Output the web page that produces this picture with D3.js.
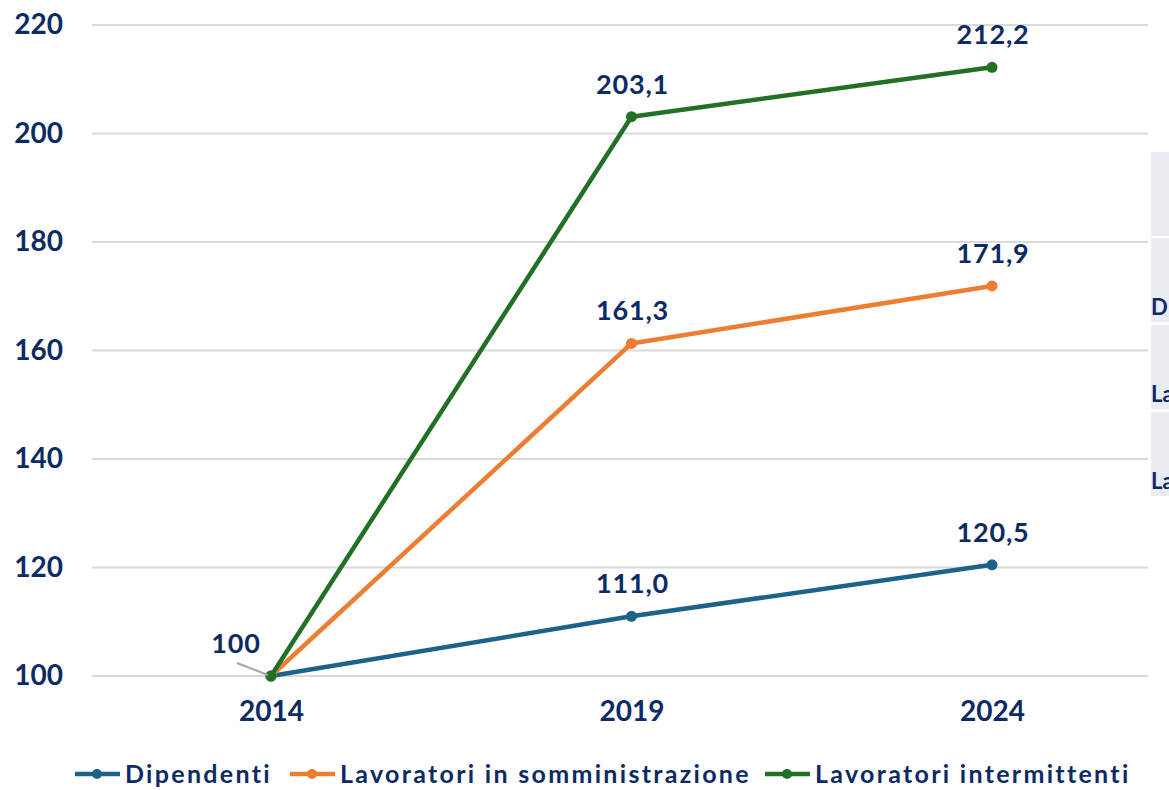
<!DOCTYPE html>
<html>
<head>
<meta charset="utf-8">
<script src="https://cdn.jsdelivr.net/npm/d3@7"></script>
<style>
  body { margin: 0; background: #fff; }
  svg { display: block; font-family: Lato, "Open Sans", sans-serif; font-weight: bold; }
</style>
</head>
<body>
<svg></svg>
<script>
let years = ['2014', '2019', '2024']
let seriesNames = ['Dipendenti', 'Lavoratori in somministrazione', 'Lavoratori intermittenti']
let dipendenti = [100, 111.0, 120.5]
let somministrazione = [100, 161.3, 171.9]
let intermittenti = [100, 203.1, 212.2]
let yTicks = [100, 120, 140, 160, 180, 200, 220]
// what shows of the table cut by the right edge
let tableRows = ['', 'D', 'La', 'La']
let colors = ['#1d6388', '#ed7d31', '#217024']

let width = 1169
let height = 790
let textColor = '#0c2a64'

let svg = d3.select('svg')
  .attr('width', width)
  .attr('height', height)

let xScale = d3.scalePoint()
  .domain(years)
  .range([271, 992])

let yScale = d3.scaleLinear()
  .domain([100, 220])
  .range([676, 25])

let rowTops = [152, 238, 325, 412]
tableRows.forEach((t, i) => {
  svg.append('rect')
     .attr('x', 1151).attr('y', rowTops[i])
     .attr('width', 40).attr('height', 84)
     .attr('fill', '#e9ecf0')
  svg.append('text')
     .attr('x', 1151).attr('y', rowTops[i] + 77)
     .attr('font-size', 22)
     .attr('fill', textColor)
     .text(t)
})

// gridlines
svg.append('g')
   .selectAll('line')
   .data(yTicks)
   .enter()
   .append('line')
   .attr('x1', 92)
   .attr('x2', 1148)
   .attr('y1', (d) => yScale(d))
   .attr('y2', (d) => yScale(d))
   .attr('stroke', '#d9d9d9')
   .attr('stroke-width', 2)

let yAxis = d3.axisLeft(yScale)
  .tickValues(yTicks)
  .tickSize(0)
  .tickPadding(0)

let yG = svg.append('g')
   .attr('transform', 'translate(63, 0)')
   .call(yAxis)
yG.select('.domain').remove()
yG.selectAll('text')
  .attr('font-size', 28)
  .attr('font-family', 'Lato, sans-serif')
  .attr('font-weight', 'bold')
  .attr('fill', textColor)

let xAxis = d3.axisBottom(xScale)
  .tickSize(0)
  .tickPadding(0)

let xG = svg.append('g')
   .attr('transform', 'translate(0, 701)')
   .call(xAxis)
xG.select('.domain').remove()
xG.selectAll('text')
  .attr('font-size', 28)
  .attr('font-family', 'Lato, sans-serif')
  .attr('font-weight', 'bold')
  .attr('fill', textColor)

let allSeries = [dipendenti, somministrazione, intermittenti]

let line = d3.line()
  .x((d, i) => xScale(years[i]))
  .y((d) => yScale(d))

allSeries.forEach((values, s) => {
  svg.append('path')
     .datum(values)
     .attr('d', line)
     .attr('fill', 'none')
     .attr('stroke', colors[s])
     .attr('stroke-width', 4.5)
     .attr('stroke-linejoin', 'round')

  svg.selectAll('.dot' + s)
     .data(values)
     .enter()
     .append('circle')
     .attr('cx', (d, i) => xScale(years[i]))
     .attr('cy', (d) => yScale(d))
     .attr('r', 5.5)
     .attr('fill', colors[s])

  // value labels (skip first, shared 100)
  svg.selectAll('.lab' + s)
     .data(values.slice(1))
     .enter()
     .append('text')
     .attr('x', (d, i) => xScale(years[i + 1]) + 1)
     .attr('y', (d) => yScale(d) - 23)
     .attr('text-anchor', 'middle')
     .attr('font-size', 27)
     .attr('letter-spacing', 0.8)
     .attr('fill', textColor)
     .text((d) => d3.format('.1f')(d).replace('.', ','))
})

// label for shared start value, with leader line
svg.append('line')
   .attr('x1', 237).attr('y1', 663)
   .attr('x2', xScale(years[0]) - 3).attr('y2', yScale(100) - 1)
   .attr('stroke', '#a6a6a6')
   .attr('stroke-width', 2)
svg.append('text')
   .attr('x', 236)
   .attr('y', yScale(100) - 23)
   .attr('text-anchor', 'middle')
   .attr('font-size', 27)
   .attr('letter-spacing', 0.8)
   .attr('fill', textColor)
   .text(d3.format('d')(dipendenti[0]))

// legend
let legendX = [75, 290, 765]
seriesNames.forEach((name, i) => {
  let g = svg.append('g').attr('transform', 'translate(' + legendX[i] + ', 774)')
  g.append('line')
   .attr('x1', 0).attr('x2', 45)
   .attr('y1', 0).attr('y2', 0)
   .attr('stroke', colors[i])
   .attr('stroke-width', 4.5)
  g.append('circle')
   .attr('cx', 22).attr('cy', 0).attr('r', 5)
   .attr('fill', colors[i])
  g.append('text')
   .attr('x', 50).attr('y', 9)
   .attr('font-size', 25)
   .attr('letter-spacing', 2.3)
   .attr('fill', textColor)
   .text(name)
})
</script>
</body>
</html>
